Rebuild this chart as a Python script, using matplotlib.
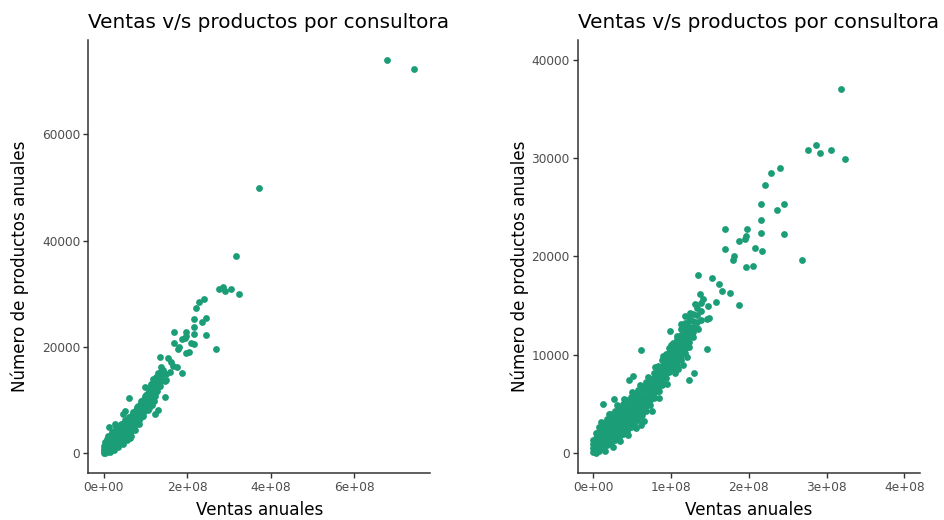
import matplotlib
matplotlib.use("Agg")
import matplotlib.pyplot as plt
import numpy as np
from matplotlib.ticker import FuncFormatter

# ventas anuales (1e8) y productos anuales (miles) por consultora
ventas = [
    # outliers arriba
    7.45, 6.78, 3.71,
    3.18, 2.76, 2.86, 2.91, 3.06, 3.24, 2.29, 2.40, 2.21,
    2.16, 2.45, 2.36, 2.16, 2.16, 2.45, 1.69, 1.97, 1.87, 1.95, 1.96, 2.08,
    2.17, 1.69, 1.81, 1.79, 1.96, 2.05, 2.68,
    1.35, 1.53, 1.61, 1.65, 1.76, 1.37, 1.41, 1.58, 1.48, 1.87, 1.31, 1.24,
    1.18, 1.49,
    1.46, 1.34, 0.99, 1.46, 1.21, 1.20, 1.29, 1.23, 1.09, 0.61, 0.51, 0.27,
    0.83, 0.12, 0.60, 0.62, 0.47, 0.85, 0.46,
    # borde de la nube
    0.10, 0.20, 0.30, 0.40, 0.50, 0.60, 0.70, 0.80, 0.90, 1.00,
    0.15, 0.25, 0.35, 0.45, 0.55, 0.65, 0.75, 0.85, 0.95, 1.05, 1.15,
    # nube densa
    0.00, 0.00, 0.00, 0.00,
    0.04, 0.04, 0.04, 0.04, 0.04,
    0.08, 0.08, 0.08, 0.08, 0.08, 0.08,
    0.13, 0.13, 0.13, 0.13, 0.13, 0.13, 0.13,
    0.18, 0.18, 0.18, 0.18, 0.18, 0.18, 0.18,
    0.23, 0.23, 0.23, 0.23, 0.23, 0.23, 0.23,
    0.28, 0.28, 0.28, 0.28, 0.28, 0.28, 0.28,
    0.33, 0.33, 0.33, 0.33, 0.33, 0.33, 0.33,
    0.38, 0.38, 0.38, 0.38, 0.38, 0.38, 0.38,
    0.43, 0.43, 0.43, 0.43, 0.43, 0.43, 0.43,
    0.48, 0.48, 0.48, 0.48, 0.48, 0.48, 0.48,
    0.53, 0.53, 0.53, 0.53, 0.53, 0.53, 0.53,
    0.58, 0.58, 0.58, 0.58, 0.58, 0.58, 0.58,
    0.63, 0.63, 0.63, 0.63, 0.63, 0.63, 0.63,
    0.68, 0.68, 0.68, 0.68, 0.68, 0.68, 0.68,
    0.73, 0.73, 0.73, 0.73, 0.73, 0.73,
    0.78, 0.78, 0.78, 0.78, 0.78, 0.78,
    0.83, 0.83, 0.83, 0.83, 0.83, 0.83,
    0.88, 0.88, 0.88, 0.88, 0.88, 0.88,
    0.93, 0.93, 0.93, 0.93, 0.93, 0.93,
    0.98, 0.98, 0.98, 0.98, 0.98, 0.98,
    1.03, 1.03, 1.03, 1.03, 1.03, 1.03,
    1.08, 1.08, 1.08, 1.08, 1.08, 1.08, 1.08,
    1.13, 1.13, 1.13, 1.13, 1.13, 1.13, 1.13, 1.13,
    1.18, 1.18, 1.18, 1.18, 1.18, 1.18, 1.18,
    1.23, 1.23, 1.23, 1.23, 1.23, 1.23, 1.23,
    1.28, 1.28, 1.28, 1.28, 1.28,
    1.33, 1.33, 1.33, 1.33,
    1.38, 1.38, 1.38,
]
productos = [
    72.2, 74.0, 49.9,
    37.0, 30.84, 31.3, 30.5, 30.84, 29.9, 28.5, 29.0, 27.3,
    25.3, 25.35, 24.67, 23.7, 22.4, 22.3, 22.75, 22.8, 21.57, 21.74, 22.07, 20.8,
    20.5, 20.7, 20.05, 19.6, 18.94, 19.04, 19.6,
    18.13, 17.83, 17.16, 16.45, 16.28, 16.15, 15.67, 15.34, 14.93, 15.07, 15.17, 14.26,
    13.92, 13.72,
    13.58, 12.64, 12.4, 10.55, 10.79, 9.78, 8.09, 7.41, 8.59, 10.44, 7.86, 5.5,
    6.4, 4.95, 3.81, 2.86, 2.6, 6.3, 7.41,
    3.2, 4.0, 4.9, 5.5, 6.2, 6.9, 7.7, 8.7, 9.9, 11.0,
    0.2, 0.6, 1.2, 1.8, 2.5, 3.3, 4.3, 5.6, 7.0, 8.1, 9.0,
    0.1, 0.5, 0.9, 1.3,
    0.05, 0.5, 1.0, 1.5, 2.05,
    0.2, 0.7, 1.2, 1.7, 2.2, 2.6,
    0.5, 0.95, 1.4, 1.9, 2.4, 2.8, 3.05,
    0.8, 1.3, 1.8, 2.3, 2.8, 3.25, 3.5,
    1.05, 1.6, 2.1, 2.6, 3.1, 3.6, 4.0,
    1.3, 1.8, 2.3, 2.8, 3.3, 3.8, 4.3,
    1.6, 2.1, 2.6, 3.1, 3.6, 4.1, 4.6,
    1.9, 2.4, 2.9, 3.4, 3.9, 4.4, 5.0,
    2.2, 2.7, 3.2, 3.7, 4.2, 4.8, 5.35,
    2.6, 3.1, 3.6, 4.1, 4.6, 5.1, 5.7,
    2.95, 3.5, 4.0, 4.5, 5.0, 5.5, 6.05,
    3.4, 3.9, 4.4, 4.9, 5.4, 5.9, 6.4,
    3.85, 4.35, 4.85, 5.35, 5.85, 6.4, 6.8,
    4.3, 4.8, 5.3, 5.8, 6.3, 6.8, 7.2,
    4.9, 5.4, 5.9, 6.4, 6.9, 7.5,
    5.6, 6.1, 6.6, 7.1, 7.6, 8.1,
    6.3, 6.8, 7.3, 7.8, 8.3, 8.8,
    6.9, 7.4, 7.9, 8.4, 8.9, 9.45,
    7.6, 8.1, 8.6, 9.1, 9.6, 10.1,
    8.2, 8.7, 9.2, 9.7, 10.2, 10.7,
    8.6, 9.1, 9.6, 10.1, 10.6, 11.2,
    9.0, 9.5, 10.0, 10.5, 11.0, 11.6, 11.9,
    9.5, 10.0, 10.5, 11.0, 11.5, 12.0, 12.6, 13.1,
    10.2, 10.7, 11.2, 11.7, 12.2, 12.7, 13.2,
    10.8, 11.3, 11.8, 12.3, 12.8, 13.4, 13.8,
    11.8, 12.3, 12.8, 13.4, 14.1,
    12.7, 13.3, 14.0, 14.7,
    13.5, 14.4, 15.3,
]

x = np.array(ventas) * 1e8
y = np.array(productos) * 1000

titulo = "Ventas v/s productos por consultora"
verde = "#1B9E77"
eje = "#333333"
gris = "#4D4D4D"

fig = plt.figure(figsize=(9.45, 5.2), dpi=100)
W, H = 945, 520

def panel(left, right):
    ax = fig.add_axes([left / W, 1 - 472.7 / H, (right - left) / W, (472.7 - 40) / H])
    for s in ["top", "right"]:
        ax.spines[s].set_visible(False)
    for s in ["left", "bottom"]:
        ax.spines[s].set_color(eje)
        ax.spines[s].set_linewidth(1.1)
    ax.tick_params(colors=eje, width=1.0, length=3.8, labelsize=8.7, labelcolor=gris, pad=2)
    ax.xaxis.set_major_formatter(FuncFormatter(lambda v, p: f"{v:.0e}"))
    ax.yaxis.set_major_formatter(FuncFormatter(lambda v, p: f"{v:.0f}"))
    fig.text(left / W, 1 - 28 / H, titulo, fontsize=14.4, va="baseline", ha="left")
    fig.text((left + right) / 2 / W, 1 - 515 / H, "Ventas anuales", fontsize=12.1,
             va="baseline", ha="center")
    return ax

# todos los datos
ax1 = panel(88.3, 430)
ax1.scatter(x, y, s=24, color=verde, linewidths=0, zorder=3)
ax1.margins(0.05)
ax1.set_xticks([0, 2e8, 4e8, 6e8])
ax1.set_yticks([0, 20000, 40000, 60000])
fig.text(20 / W, 1 - 266 / H, "Número de productos anuales", fontsize=12.1,
         rotation=90, va="center", ha="center")

# sin los valores extremos
ax2 = panel(577.7, 920)
m = (x <= 4e8) & (y <= 40000)
ax2.scatter(x[m], y[m], s=24, color=verde, linewidths=0, zorder=3)
ax2.set_xlim(-0.2e8, 4.2e8)
ax2.set_ylim(-2000, 42000)
ax2.set_xticks([0, 1e8, 2e8, 3e8, 4e8])
ax2.set_yticks([0, 10000, 20000, 30000, 40000])
fig.text(520 / W, 1 - 266 / H, "Número de productos anuales", fontsize=12.1,
         rotation=90, va="center", ha="center")

fig.savefig("out.png", dpi=100)
